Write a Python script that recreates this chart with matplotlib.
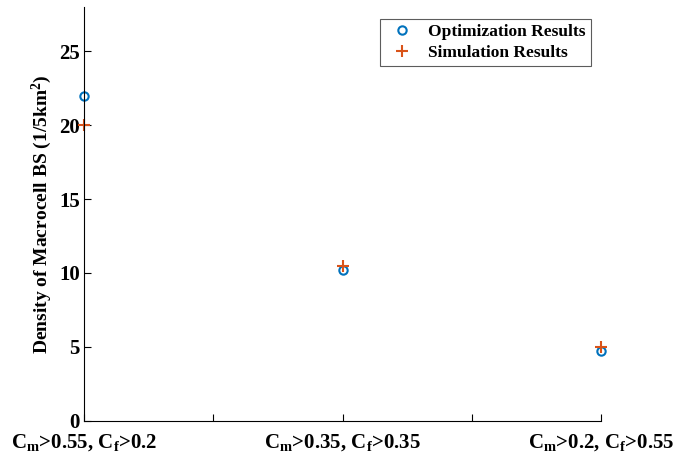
import matplotlib
matplotlib.use("Agg")
import matplotlib.pyplot as plt

# data
cases = [1, 2, 3]
case_labels = [r'C$_{\rm m}$>0.55, C$_{\rm f}$>0.2',
               r'C$_{\rm m}$>0.35, C$_{\rm f}$>0.35',
               r'C$_{\rm m}$>0.2, C$_{\rm f}$>0.55']
opt_results = [22.0, 10.2, 4.7]
sim_results = [20.0, 10.5, 5.0]

plt.rcParams['font.family'] = 'Liberation Serif'
plt.rcParams['font.weight'] = 'bold'
plt.rcParams['mathtext.fontset'] = 'custom'
plt.rcParams['mathtext.rm'] = 'Liberation Serif:bold'
plt.rcParams['mathtext.it'] = 'Liberation Serif:bold'
plt.rcParams['mathtext.bf'] = 'Liberation Serif:bold'

fig = plt.figure(figsize=(6.97, 4.54), dpi=100)
ax = fig.add_axes([0.1205, 0.0733, 0.7418, 0.9113])

ax.plot(cases, opt_results, 'o', mfc='none', mec='#0072BD', mew=1.5, ms=6,
        clip_on=False, label='Optimization Results')
ax.plot(cases, sim_results, '+', color='#D95319', mew=1.5, ms=8,
        clip_on=False, label='Simulation Results')

ax.set_xlim(1, 3)
ax.set_ylim(0, 28)
ax.set_xticks([1, 1.5, 2, 2.5, 3])
ax.set_xticklabels([case_labels[0], '', case_labels[1], '', case_labels[2]])
ax.set_yticks([0, 5, 10, 15, 20, 25])
ax.tick_params(direction='in', length=5, width=0.8, labelsize=15, pad=3)
ax.tick_params(axis='x', pad=8)
for lab in ax.get_xticklabels() + ax.get_yticklabels():
    lab.set_fontweight('bold')

ax.spines['top'].set_visible(False)
ax.spines['right'].set_visible(False)

ax.set_ylabel(r'Density of Macrocell BS (1/5km$^2$)', fontsize=14, fontweight='bold', labelpad=4)

leg = ax.legend(loc='upper right', bbox_to_anchor=(0.981, 0.971), borderaxespad=0,
                frameon=True, fancybox=False, edgecolor='#333333', handletextpad=0.5,
                borderpad=0.3, labelspacing=0.25, prop={'weight': 'bold', 'size': 12.5})
leg.get_frame().set_linewidth(0.8)

fig.savefig('out.png', dpi=100)
